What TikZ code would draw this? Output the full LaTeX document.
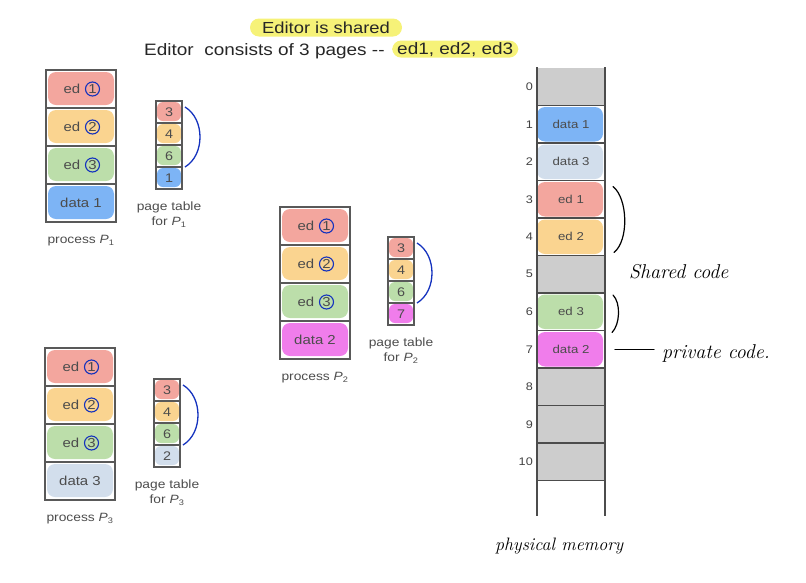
\documentclass[tikz,border=0pt]{standalone}
\usepackage{fontspec}
\setsansfont[FakeStretch=1.15]{Liberation Sans}
\usetikzlibrary{positioning}
\definecolor{cred}{HTML}{F3A69E}
\definecolor{corange}{HTML}{FAD490}
\definecolor{cgreen}{HTML}{BCDEAA}
\definecolor{cblue}{HTML}{7DB4F5}
\definecolor{cgrey}{HTML}{D2DEEC}
\definecolor{cmag}{HTML}{F07DEB}
\definecolor{cfree}{HTML}{CDCDCD}
\definecolor{yhl}{HTML}{F6F278}
\definecolor{penblue}{HTML}{1432BE}
\tikzset{
  pcell/.style={draw=black!65,line width=1.1pt,minimum width=70pt,minimum height=38pt,inner sep=0pt,outer sep=0pt},
  tcell/.style={draw=black!65,line width=1.1pt,minimum width=26pt,minimum height=22pt,inner sep=0pt,outer sep=0pt,
    text=black!70,font=\sffamily\fontsize{12.5}{14}\selectfont},
  mcell/.style={minimum width=68pt,minimum height=37.5pt,inner sep=0pt,outer sep=0pt},
  celltext/.style={inner sep=1pt,text=black!70,font=\sffamily\fontsize{13}{15}\selectfont},
  ring/.style={circle,draw=penblue,line width=1.1pt,minimum size=14pt,inner sep=0pt,text=black!70,
    font=\sffamily\fontsize{13}{15}\selectfont},
  plabel/.style={inner sep=0pt,text=black!70,font=\sffamily\fontsize{12}{14}\selectfont},
  mtext/.style={inner sep=0pt,text=black!70,font=\sffamily\fontsize{11.5}{13}\selectfont},
  mnum/.style={inner sep=0pt,text=black!75,font=\sffamily\fontsize{11}{13}\selectfont},
  hilite/.style={fill=yhl,text=black!85,font=\sffamily\fontsize{16.5}{18}\selectfont},
  wall/.style={draw=black!70,line width=1.1pt},
  hand/.style={draw=black,line width=1.2pt,line cap=round},
  script/.style={inner sep=0pt,font=\rmfamily\itshape\fontsize{20}{22}\selectfont}
}
\begin{document}
\begin{tikzpicture}[x=1pt,y=-1pt]
  \useasboundingbox (0,0) rectangle (806,582);
  \node[hilite,rounded corners=9pt,minimum height=18pt,minimum width=152pt,inner sep=0pt,
    font=\sffamily\fontsize{16}{18}\selectfont] (title) at (326,27.5) {Editor is shared};
  \node[anchor=base west,inner sep=0pt,text=black!85,font=\sffamily\fontsize{16.5}{18}\selectfont]
    (subtitle) at (144,55) {Editor\ \ consists of 3 pages -{}-};
  \node[hilite,rounded corners=9pt,anchor=base west,inner xsep=5pt,inner ysep=1.5pt] (pages) at (392,54) {ed1, ed2, ed3};
  \foreach \p/\x/\y/\dat/\col in {1/46/70/data 1/cblue,2/280/207/data 2/cmag,3/45/348/data 3/cgrey} {
    \foreach \i/\colr in {1/cred,2/corange,3/cgreen,4/\col} {
      \fill[\colr,rounded corners=8pt] (\x+2,\y+38*\i-36) rectangle (\x+68,\y+38*\i-3);
      \node[pcell] (p\p-\i) at (\x+35,\y+38*\i-19) {};
    }
    \foreach \i in {1,2,3} {
      \node[celltext,anchor=east] (p\p-\i-ed) at ([xshift=0.5pt]p\p-\i.center) {ed};
      \node[ring] (p\p-\i-no) at ([xshift=11.5pt]p\p-\i.center) {\i};
    }
    \node[celltext] (p\p-dat) at (p\p-4) {\dat};
    \node[plabel,below=13pt of p\p-4] (p\p-name) {process {\itshape P}\textsubscript{\p}};
  }
  \foreach \tb/\x/\y/\last/\col in {1/156/101/1/cblue,2/388/237/7/cmag,3/154/379/2/cgrey} {
    \foreach \i/\pg/\colr in {1/3/cred,2/4/corange,3/6/cgreen,4/\last/\col} {
      \fill[\colr,rounded corners=6pt] (\x+1,\y+22*\i-21) rectangle (\x+25,\y+22*\i-2);
      \node[tcell] (t\tb-\i) at (\x+13,\y+22*\i-11) {\pg};
    }
    \node[plabel,align=center,below=13pt of t\tb-4,font=\sffamily\fontsize{12}{14.5}\selectfont]
      (t\tb-name) {page table\\for {\itshape P}\textsubscript{\tb}};
    \draw[penblue,line width=1.3pt] ([xshift=3pt,yshift=5pt]t\tb-1.east)
      .. controls +(20,12) and +(20,-12) .. ([xshift=3pt]t\tb-3.south east);
  }
  \foreach \i in {0,...,10} {
    \node[mcell] (m\i) at (571,86.75+37.5*\i) {};
    \node[mnum,left=4pt of m\i.west] (m\i-no) {\i};
  }
  \foreach \i in {0,5,8,9,10}
    \fill[cfree] (m\i.north west) rectangle (m\i.south east);
  \foreach \i/\txt/\colr in {1/data 1/cblue,2/data 3/cgrey,3/ed 1/cred,4/ed 2/corange,6/ed 3/cgreen,7/data 2/cmag} {
    \fill[\colr,rounded corners=8pt] ([yshift=-1.5pt]m\i.north west) rectangle ([shift={(-2pt,1.5pt)}]m\i.south east);
    \node[mtext] (m\i-txt) at (m\i) {\txt};
  }
  \draw[wall] ([yshift=1pt]m0.north west) -- ([yshift=-35pt]m10.south west);
  \draw[wall] ([yshift=1pt]m0.north east) -- ([yshift=-35pt]m10.south east);
  \foreach \i in {0,...,10}
    \draw[wall] (m\i.south west) -- (m\i.south east);
  \draw[hand] ([xshift=8pt,yshift=-6pt]m3.north east) .. controls +(15,12) and +(15,-12) .. ([xshift=9pt,yshift=3pt]m4.south east);
  \draw[hand] ([xshift=8pt,yshift=-2pt]m6.north east) .. controls +(8,8) and +(8,-8) .. ([xshift=7pt,yshift=-2pt]m6.south east);
  \node[script,anchor=base west] (shared) at (629,278) {Shared code};
  \node[script,anchor=base west] (private) at (662,358) {private code.};
  \draw[hand] ([xshift=10pt]m7.east) -- ([xshift=-8pt]m7.east -| private.west);
  \node[script,anchor=base west,font=\rmfamily\itshape\fontsize{18}{20}\selectfont] (physmem) at (495,550) {physical memory};
\end{tikzpicture}
\end{document}
